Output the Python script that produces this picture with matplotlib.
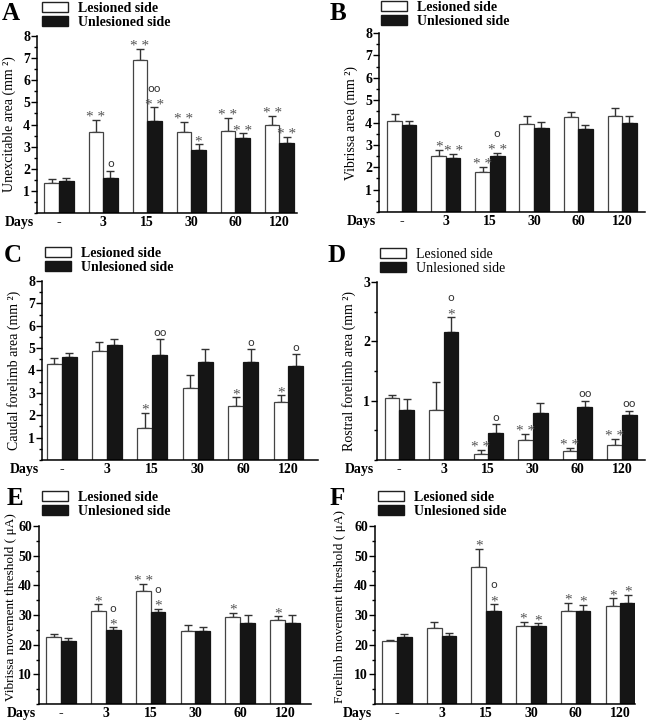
import numpy as np
import matplotlib
matplotlib.use("Agg")
import matplotlib.pyplot as plt
from matplotlib.patches import Patch
from matplotlib.ticker import MultipleLocator

plt.rcParams['font.family'] = ['Liberation Serif', 'DejaVu Serif']

days = ['-', '3', '15', '30', '60', '120']

# A - unexcitable area
a_les = [1.35, 3.65, 6.9, 3.67, 3.7, 4.0]
a_les_err = [0.17, 0.55, 0.52, 0.44, 0.6, 0.4]
a_unl = [1.45, 1.6, 4.15, 2.85, 3.4, 3.15]
a_unl_err = [0.15, 0.32, 0.62, 0.26, 0.2, 0.3]
a_les_sig = ['', '* *', '* *', '* *', '* *', '* *']
a_unl_sig = ['', 'o', 'oo\n* *', '*', '* *', '* *']

# B - vibrissa area
b_les = [4.05, 2.5, 1.8, 3.95, 4.25, 4.3]
b_les_err = [0.32, 0.28, 0.22, 0.36, 0.2, 0.36]
b_unl = [3.9, 2.4, 2.5, 3.75, 3.7, 4.0]
b_unl_err = [0.16, 0.2, 0.13, 0.27, 0.2, 0.3]
b_les_sig = ['', '*', '* *', '', '', '']
b_unl_sig = ['', '* *', 'o\n* *', '', '', '']

# C - caudal forelimb area
c_les = [4.3, 4.85, 1.45, 3.2, 2.4, 2.6]
c_les_err = [0.28, 0.41, 0.67, 0.6, 0.4, 0.3]
c_unl = [4.6, 5.15, 4.7, 4.4, 4.4, 4.2]
c_unl_err = [0.18, 0.27, 0.7, 0.56, 0.55, 0.54]
c_les_sig = ['', '', '*', '', '*', '*']
c_unl_sig = ['', '', 'oo', '', 'o', 'o']

# D - rostral forelimb area
d_les = [1.05, 0.85, 0.1, 0.34, 0.15, 0.25]
d_les_err = [0.05, 0.47, 0.07, 0.1, 0.06, 0.11]
d_unl = [0.85, 2.15, 0.45, 0.8, 0.9, 0.75]
d_unl_err = [0.17, 0.26, 0.15, 0.16, 0.1, 0.08]
d_les_sig = ['', '', '* *', '* *', '* *', '* *']
d_unl_sig = ['', 'o\n*', 'o', '', 'oo', 'oo']

# E - vibrissa movement threshold
e_les = [22.5, 31.2, 38.0, 24.5, 29.2, 28.2]
e_les_err = [1.1, 2.4, 2.4, 2.0, 1.6, 1.5]
e_unl = [21.3, 25.0, 31.0, 24.7, 27.4, 27.4]
e_unl_err = [0.8, 0.8, 1.1, 1.1, 2.6, 2.5]
e_les_sig = ['', '*', '* *', '', '*', '*']
e_unl_sig = ['', 'o\n*', 'o\n*', '', '', '']

# F - forelimb movement threshold
f_les = [21.2, 25.5, 46.3, 26.2, 31.5, 33.0]
f_les_err = [0.5, 2.1, 6.0, 1.5, 2.6, 2.7]
f_unl = [22.5, 23.0, 31.5, 26.3, 31.2, 34.2]
f_unl_err = [1.0, 1.0, 2.1, 0.9, 2.3, 2.6]
f_les_sig = ['', '', '*', '*', '*', '*']
f_unl_sig = ['', '', 'o\n*', '*', '*', '*']

W, H = 646, 720
fig = plt.figure(figsize=(W / 100, H / 100), dpi=100)


def px_axes(l, r, t, b):
    return fig.add_axes([l / W, 1 - b / H, (r - l) / W, (b - t) / H])


def panel(box, les, les_err, unl, unl_err, les_sig, unl_sig, ylabel,
          ymax, major, minor, xlim, letter, letter_xy, leg_xy, leg_bold=True,
          lab_x=None, lab_size=10):
    ax = px_axes(*box)
    x = np.arange(len(days))
    bw = 0.33
    xl = x - bw / 2
    xu = x + bw / 2
    ax.bar(xl, les, bw, color='white', edgecolor='#444444', linewidth=0.9, zorder=2)
    ax.bar(xu, unl, bw, color='#151515', edgecolor='#151515', linewidth=0.9, zorder=2)
    ax.errorbar(xl, les, yerr=[np.zeros(len(les)), les_err], fmt='none',
                ecolor='#333333', elinewidth=1, capsize=3, capthick=1, zorder=1)
    ax.errorbar(xu, unl, yerr=[np.zeros(len(unl)), unl_err], fmt='none',
                ecolor='#333333', elinewidth=1, capsize=3, capthick=1, zorder=1)
    for xs, vals, errs, sigs in [(xl, les, les_err, les_sig), (xu, unl, unl_err, unl_sig)]:
        for xi, v, e, s in zip(xs, vals, errs, sigs):
            if not s:
                continue
            lines = s.split('\n')
            off = 1
            for line in reversed(lines):
                if 'o' in line:
                    ax.annotate(line, (xi, v + e), xytext=(0, off), textcoords='offset points',
                                ha='center', va='bottom', fontsize=8, color='#333333',
                                family='DejaVu Sans')
                    off += 10
                else:
                    ax.annotate(line, (xi, v + e), xytext=(0, off - 4), textcoords='offset points',
                                ha='center', va='bottom', fontsize=11, color='#555555')
                    off += 9
    ax.set_xlim(*xlim)
    ax.set_ylim(0, ymax)
    ax.set_xticks(x)
    ax.set_xticklabels(days, fontweight='bold', fontsize=10)
    ax.tick_params(axis='x', length=0, pad=2)
    ax.set_yticks(np.arange(major, ymax + major / 2, major))
    ax.yaxis.set_minor_locator(MultipleLocator(minor))
    ax.tick_params(axis='y', which='major', length=4, width=1, labelsize=10, pad=1)
    ax.tick_params(axis='y', which='minor', length=2.5, width=1)
    for t in ax.get_yticklabels():
        t.set_fontweight('bold')
    for s in ['top', 'right']:
        ax.spines[s].set_visible(False)
    for s in ['left', 'bottom']:
        ax.spines[s].set_linewidth(1.1)
    ax.set_ylabel(ylabel, fontsize=lab_size, labelpad=5)
    if lab_x is not None:
        ax.yaxis.set_label_coords(lab_x, 0.545)
    ax.annotate('Days', (0, 0), xycoords='axes fraction', xytext=(-2, -2.5),
                textcoords='offset points', ha='right', va='top',
                fontsize=10, fontweight='bold')
    fig.text(letter_xy[0] / W, 1 - letter_xy[1] / H, letter, fontsize=18,
             fontweight='bold', ha='left', va='top')
    handles = [Patch(facecolor='white', edgecolor='#222222', linewidth=1),
               Patch(facecolor='#151515', edgecolor='#151515')]
    fig.legend(handles, ['Lesioned side', 'Unlesioned side'], loc='upper left',
               bbox_to_anchor=(leg_xy[0] / W, 1 - leg_xy[1] / H), frameon=False,
               handlelength=1.9, handleheight=0.75, borderpad=0, borderaxespad=0,
               labelspacing=0.05, handletextpad=0.7,
               prop={'size': 10, 'weight': 'bold' if leg_bold else 'normal'})
    return ax


panel((37, 297, 36, 213), a_les, a_les_err, a_unl, a_unl_err, a_les_sig, a_unl_sig,
      'Unexcitable area (mm \u00b2)', 8, 1, 0.5, (-0.5, 5.4), 'A', (2, 2), (42, 2))
panel((379, 645, 33, 212), b_les, b_les_err, b_unl, b_unl_err, b_les_sig, b_unl_sig,
      'Vibrissa area (mm \u00b2)', 8, 1, 0.5, (-0.52, 5.52), 'B', (330, 2), (381, 1))
panel((42, 318, 281, 460), c_les, c_les_err, c_unl, c_unl_err, c_les_sig, c_unl_sig,
      'Caudal forelimb area (mm \u00b2)', 8, 1, 0.5, (-0.43, 5.65), 'C', (4, 244), (45, 247))
panel((377, 645, 282, 460), d_les, d_les_err, d_unl, d_unl_err, d_les_sig, d_unl_sig,
      'Rostral forelimb area (mm \u00b2)', 3, 1, 0.5, (-0.5, 5.52), 'D', (327, 244), (380, 248),
      leg_bold=False)
panel((39, 311, 526, 704), e_les, e_les_err, e_unl, e_unl_err, e_les_sig, e_unl_sig,
      'Vibrissa movement threshold ( \u03bcA)', 60, 10, 5, (-0.49, 5.58), 'E', (7, 487), (42, 491),
      lab_x=-0.08, lab_size=9.5)
panel((375, 635, 526, 704), f_les, f_les_err, f_unl, f_unl_err, f_les_sig, f_unl_sig,
      'Forelimb movement threshold ( \u03bcA)', 60, 10, 5, (-0.49, 5.33), 'F', (330, 487), (378, 491),
      lab_x=-0.11, lab_size=9.5)

fig.savefig('out.png', dpi=100)
